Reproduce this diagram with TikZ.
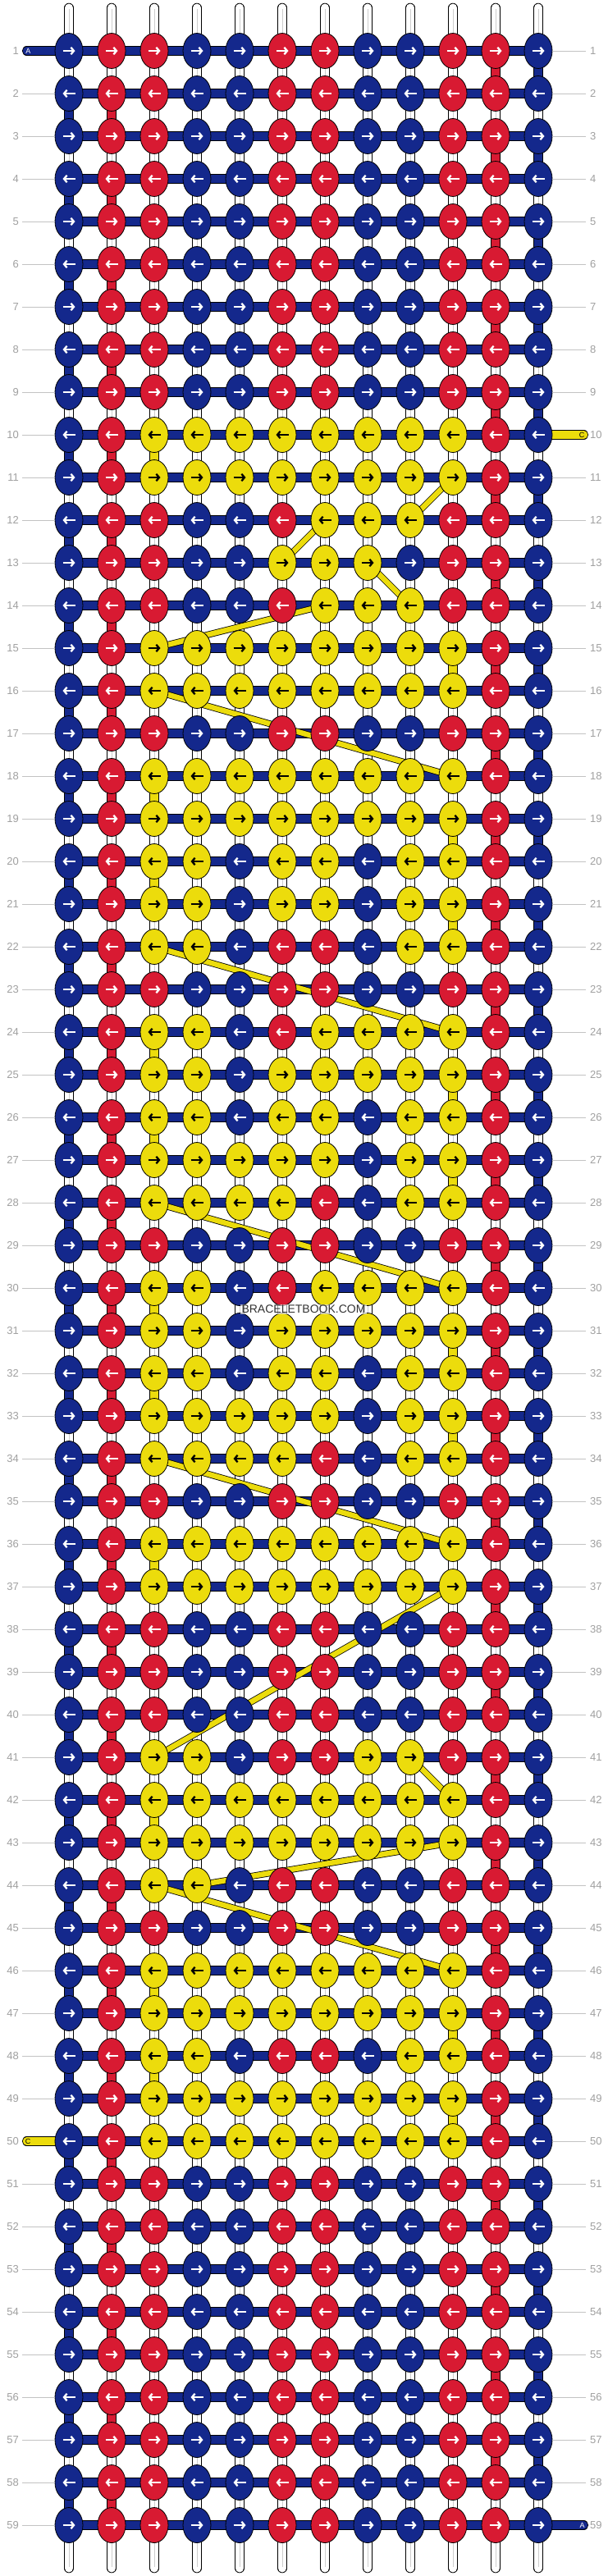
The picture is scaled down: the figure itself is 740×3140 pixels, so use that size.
\documentclass[tikz,border=0pt]{standalone}
\usepackage{fontspec}
\setmainfont{Liberation Sans}
\usetikzlibrary{shapes.geometric,arrows.meta}
\definecolor{knotB}{RGB}{20,40,140}
\definecolor{knotR}{RGB}{216,26,50}
\definecolor{knotY}{RGB}{236,220,12}
\definecolor{arrB}{RGB}{255,255,255}
\definecolor{arrR}{RGB}{255,255,255}
\definecolor{arrY}{RGB}{0,0,0}
\definecolor{labgray}{RGB}{160,160,160}
\definecolor{guidegray}{RGB}{195,195,195}
\definecolor{coregray}{RGB}{205,205,205}
\definecolor{wmtext}{RGB}{50,50,50}
\pgfdeclarelayer{bg}
\pgfdeclarelayer{mid}
\pgfsetlayers{bg,mid,main}
\begin{document}
\begin{tikzpicture}[x=1pt,y=-1pt,
  knot/.style={ellipse,draw=black,line width=0.8pt,minimum width=34pt,minimum height=43pt,inner sep=0pt},
  arrowline/.style={line width=2.3pt,-{Straight Barb[length=3.6pt,width=8.5pt]}},
  hband/.style={draw=black,line width=0.9pt,double=knotB,double distance=9.4pt},
  vstr/.style={draw=black,line width=0.8pt,double=white,double distance=10pt},
  vcore/.style={draw=coregray,line width=0.8pt},
  ydiag/.style={draw=black,line width=0.8pt,double=knotY,double distance=6.4pt},
  rowlab/.style={text=labgray,inner sep=0pt,font=\fontsize{13}{13}\selectfont},
  guide/.style={draw=guidegray,line width=0.8pt},
  taillab/.style={inner sep=0pt,font=\fontsize{9}{9}\selectfont},
  wm/.style={fill=white,fill opacity=0.6,text opacity=1,text=wmtext,inner sep=1.5pt,font=\fontsize{14}{14}\selectfont}]
\useasboundingbox (0,0) rectangle (740,3140);
% knots
\foreach \rl [count=\ri] in {
{B,R,R,B,B,R,R,B,B,R,R,B},
{B,R,R,B,B,R,R,B,B,R,R,B},
{B,R,R,B,B,R,R,B,B,R,R,B},
{B,R,R,B,B,R,R,B,B,R,R,B},
{B,R,R,B,B,R,R,B,B,R,R,B},
{B,R,R,B,B,R,R,B,B,R,R,B},
{B,R,R,B,B,R,R,B,B,R,R,B},
{B,R,R,B,B,R,R,B,B,R,R,B},
{B,R,R,B,B,R,R,B,B,R,R,B},
{B,R,Y,Y,Y,Y,Y,Y,Y,Y,R,B},
{B,R,Y,Y,Y,Y,Y,Y,Y,Y,R,B},
{B,R,R,B,B,R,Y,Y,Y,R,R,B},
{B,R,R,B,B,Y,Y,Y,B,R,R,B},
{B,R,R,B,B,R,Y,Y,Y,R,R,B},
{B,R,Y,Y,Y,Y,Y,Y,Y,Y,R,B},
{B,R,Y,Y,Y,Y,Y,Y,Y,Y,R,B},
{B,R,R,B,B,R,R,B,B,R,R,B},
{B,R,Y,Y,Y,Y,Y,Y,Y,Y,R,B},
{B,R,Y,Y,Y,Y,Y,Y,Y,Y,R,B},
{B,R,Y,Y,B,Y,Y,B,Y,Y,R,B},
{B,R,Y,Y,B,Y,Y,B,Y,Y,R,B},
{B,R,Y,Y,B,R,R,B,Y,Y,R,B},
{B,R,R,B,B,R,R,B,B,R,R,B},
{B,R,Y,Y,B,R,Y,Y,Y,Y,R,B},
{B,R,Y,Y,B,Y,Y,Y,Y,Y,R,B},
{B,R,Y,Y,B,Y,Y,B,Y,Y,R,B},
{B,R,Y,Y,Y,Y,Y,B,Y,Y,R,B},
{B,R,Y,Y,Y,Y,R,B,Y,Y,R,B},
{B,R,R,B,B,R,R,B,B,R,R,B},
{B,R,Y,Y,B,R,Y,Y,Y,Y,R,B},
{B,R,Y,Y,B,Y,Y,Y,Y,Y,R,B},
{B,R,Y,Y,B,Y,Y,B,Y,Y,R,B},
{B,R,Y,Y,Y,Y,Y,B,Y,Y,R,B},
{B,R,Y,Y,Y,Y,R,B,Y,Y,R,B},
{B,R,R,B,B,R,R,B,B,R,R,B},
{B,R,Y,Y,Y,Y,Y,Y,Y,Y,R,B},
{B,R,Y,Y,Y,Y,Y,Y,Y,Y,R,B},
{B,R,R,B,B,R,R,B,B,R,R,B},
{B,R,R,B,B,R,R,B,B,R,R,B},
{B,R,R,B,B,R,R,B,B,R,R,B},
{B,R,Y,Y,B,R,R,Y,Y,R,R,B},
{B,R,Y,Y,Y,Y,Y,Y,Y,Y,R,B},
{B,R,Y,Y,Y,Y,Y,Y,Y,Y,R,B},
{B,R,Y,Y,B,R,R,B,B,R,R,B},
{B,R,R,B,B,R,R,B,B,R,R,B},
{B,R,Y,Y,Y,Y,Y,Y,Y,Y,R,B},
{B,R,Y,Y,Y,Y,Y,Y,Y,Y,R,B},
{B,R,Y,Y,B,R,R,B,Y,Y,R,B},
{B,R,Y,Y,Y,Y,Y,Y,Y,Y,R,B},
{B,R,Y,Y,Y,Y,Y,Y,Y,Y,R,B},
{B,R,R,B,B,R,R,B,B,R,R,B},
{B,R,R,B,B,R,R,B,B,R,R,B},
{B,R,R,B,B,R,R,B,B,R,R,B},
{B,R,R,B,B,R,R,B,B,R,R,B},
{B,R,R,B,B,R,R,B,B,R,R,B},
{B,R,R,B,B,R,R,B,B,R,R,B},
{B,R,R,B,B,R,R,B,B,R,R,B},
{B,R,R,B,B,R,R,B,B,R,R,B},
{B,R,R,B,B,R,R,B,B,R,R,B}} {
  \pgfmathtruncatemacro\dirn{1-2*mod(\ri+1,2)}
  \foreach \kc [count=\ci] in \rl {
    \node[knot,fill=knot\kc] (k-\ri-\ci) at ({32+52*\ci},{10+52*\ri}) {};
    \draw[arrowline,draw=arr\kc] ([xshift={-7.5pt*\dirn}]k-\ri-\ci.center) -- ([xshift={7.5pt*\dirn}]k-\ri-\ci.center);
  }
}
% row labels and guides
\foreach \ri in {1,...,59} {
  \node[rowlab,anchor=east] (ll-\ri) at (23,{10+52*\ri}) {\ri};
  \node[rowlab,anchor=west] (rl-\ri) at (719,{10+52*\ri}) {\ri};
  \ifnum\ri=1 \else\ifnum\ri=50 \else
    \draw[guide] ([xshift=4pt]ll-\ri.east) -- (k-\ri-1.west);
  \fi\fi
  \ifnum\ri=10 \else\ifnum\ri=59 \else
    \draw[guide] (k-\ri-12.east) -- ([xshift=-5pt]rl-\ri.west);
  \fi\fi
}
% watermark
\node[wm] (wm) at (370,1596) {BRACELETBOOK.COM};
% strings in the background
\begin{pgfonlayer}{bg}
  \fill[white] (0,0) rectangle (740,3140);
  \foreach \ci in {1,...,12} {
    \coordinate (top-\ci) at ({32+52*\ci},9.5);
    \coordinate (topc-\ci) at ({32+52*\ci},11);
    \coordinate (bot-\ci) at ({32+52*\ci},3130.5);
    \coordinate (botc-\ci) at ({32+52*\ci},3129);
    \draw[vstr,line cap=round] (top-\ci) -- (k-1-\ci.center);
    \draw[vcore] (topc-\ci) -- (k-1-\ci.center);
    \draw[vstr,line cap=round] (k-59-\ci.center) -- (bot-\ci);
    \draw[vcore] (k-59-\ci.center) -- (botc-\ci);
  }
  \foreach \ri in {1,...,58} {
    \pgfmathtruncatemacro\rn{\ri+1}
    \foreach \ci in {1,...,12} {
      \draw[vstr] (k-\ri-\ci.center) -- (k-\rn-\ci.center);
      \draw[vcore] (k-\ri-\ci.center) -- (k-\rn-\ci.center);
    }
  }
  \foreach \ri in {1,3,...,57} {
    \pgfmathtruncatemacro\rn{\ri+1}
    \draw[vstr,double=knotR] (k-\ri-11.center) -- (k-\rn-11.center);
    \draw[vstr,double=knotB] (k-\ri-12.center) -- (k-\rn-12.center);
  }
  \foreach \ri in {2,4,...,58} {
    \pgfmathtruncatemacro\rn{\ri+1}
    \draw[vstr,double=knotB] (k-\ri-1.center) -- (k-\rn-1.center);
    \draw[vstr,double=knotR] (k-\ri-2.center) -- (k-\rn-2.center);
  }
  \foreach \ri/\ci in {10/3,15/10,18/3,19/10,20/3,21/10,24/3,25/10,26/3,27/10,30/3,31/10,32/3,33/10,36/3,42/3,46/3,47/10,48/3,49/10} {
    \pgfmathtruncatemacro\rn{\ri+1}
    \draw[vstr,double=knotY] (k-\ri-\ci.center) -- (k-\rn-\ci.center);
  }
  % horizontal bands
  \coordinate (tailA1) at (32.5,62);
  \coordinate (tailA2) at (711.5,3078);
  \coordinate (tailC1) at (711.5,530);
  \coordinate (tailC2) at (32.5,2610);
  \draw[hband,line cap=round] (tailA1) -- (k-1-12.center);
  \foreach \ri in {2,...,58} {
    \draw[hband] (k-\ri-1.center) -- (k-\ri-12.center);
  }
  \draw[hband,line cap=round] (k-59-1.center) -- (tailA2);
  \draw[hband,double=knotY,line cap=round] (k-10-12.center) -- (tailC1);
  \draw[hband,double=knotY,line cap=round] (tailC2) -- (k-50-1.center);
\end{pgfonlayer}
% tail letters
\node[taillab,text=white] (lA1) at (34.5,62) {A};
\node[taillab,text=white] (lA2) at (709.5,3078) {A};
\node[taillab,text=black] (lC1) at (709,530) {C};
\node[taillab,text=black] (lC2) at (34,2610) {C};
% yellow string moving between columns
\begin{pgfonlayer}{mid}
  \foreach \ra/\ca/\rb/\cb in {11/10/12/9,12/7/13/6,13/8/14/9,14/7/15/3,16/3/18/10,22/3/24/10,28/3/30/10,34/3/36/10,37/10/41/3,41/9/42/10,43/10/44/4,44/3/46/10} {
    \draw[ydiag] (k-\ra-\ca.center) -- (k-\rb-\cb.center);
  }
\end{pgfonlayer}
\end{tikzpicture}
\end{document}
